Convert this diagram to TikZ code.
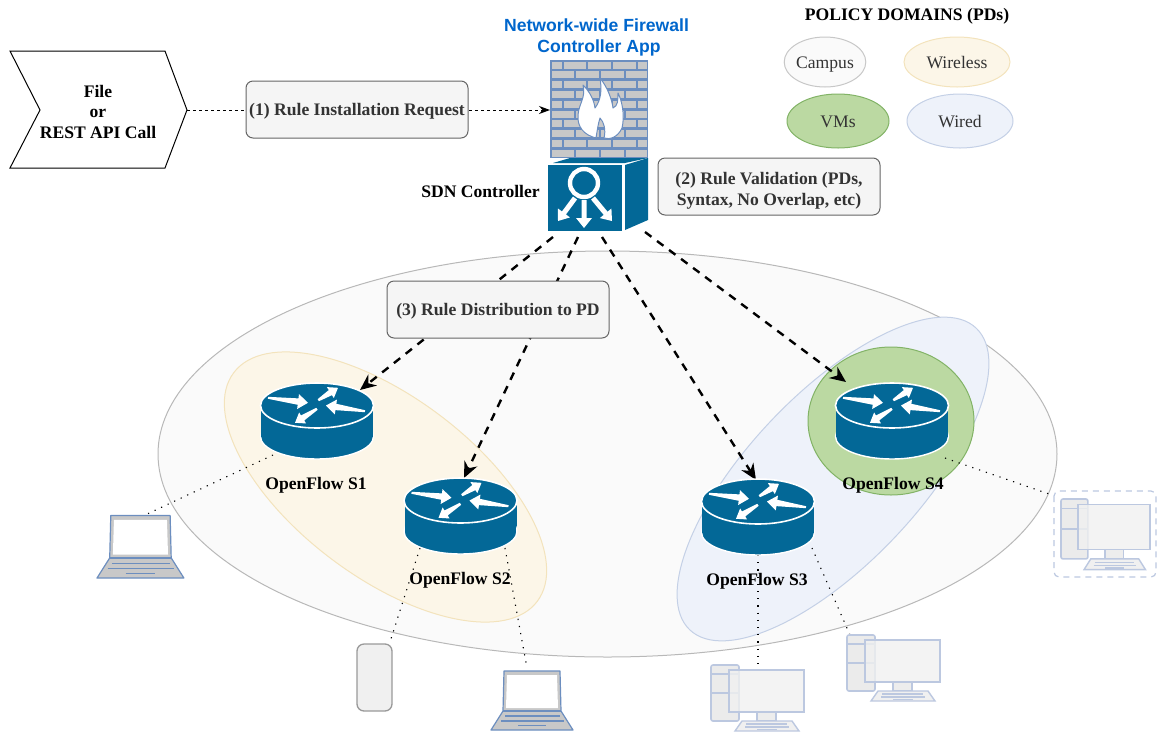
\documentclass[tikz,border=0pt]{standalone}
\usepackage{fontspec}
\setmainfont{Liberation Serif}
\newfontfamily\arialf{Liberation Sans}
\usetikzlibrary{arrows.meta,shapes.geometric}
\definecolor{teal1}{HTML}{036897}
\definecolor{brick}{HTML}{C8C8C8}
\definecolor{mortar}{HTML}{6C8EBF}
\definecolor{boxfill}{HTML}{F5F5F5}
\definecolor{boxline}{HTML}{666666}
\definecolor{txt}{HTML}{333333}
\definecolor{devline}{HTML}{BCC8E0}
\definecolor{tanfill}{HTML}{FCF6E8}
\definecolor{tanline}{HTML}{F3E3BC}
\definecolor{bluefill}{HTML}{EEF2FA}
\definecolor{blueline}{HTML}{C4D0E6}
\definecolor{greenfill}{HTML}{BBD9A2}
\definecolor{greenline}{HTML}{82B366}
\definecolor{appblue}{HTML}{0066CC}
% tapered white arrow: x1 y1 x2 y2 tail-half shaft-half head-half head-length
\newcommand{\taperarrow}[8]{%
 \pgfmathsetmacro\tdx{#3-#1}\pgfmathsetmacro\tdy{#4-#2}%
 \pgfmathsetmacro\tlen{veclen(\tdx,\tdy)}\pgfmathsetmacro\tang{atan2(-\tdy,\tdx)}%
 \pgfmathsetmacro\tneck{\tlen-#8}%
 \fill[white,shift={(#1,#2)},rotate=\tang] (0,-#5) -- (\tneck,-#6) -- (\tneck,-#7) -- (\tlen,0) -- (\tneck,#7) -- (\tneck,#6) -- (0,#5) -- cycle;%
}
\newcommand{\bodytext}{\fontsize{17.6}{21}\selectfont}
\newcommand{\lineprop}{\rule[-4pt]{0pt}{20pt}}
\tikzset{
 x=1pt,y=-1pt,
 stepbox/.style={draw=boxline,fill=boxfill,rounded corners=7pt,line width=1pt,font=\bfseries\bodytext,text=txt,align=center,inner sep=0pt,minimum width=222pt,minimum height=57pt},
 bigdash/.style={line width=2.4pt,dash pattern=on 8pt off 7pt,-{Stealth[length=16pt,width=14pt]}},
 thindash/.style={line width=1pt,dash pattern=on 3pt off 3pt,-{Stealth[length=11pt,width=8pt]}},
 dots/.style={line width=1.1pt,dash pattern=on 1.2pt off 6pt},
 oflabel/.style={font=\bfseries\bodytext,inner sep=0pt},
 legend/.style={ellipse,line width=1pt,font=\bodytext,text=txt,inner sep=0pt},
 router/.pic={
  \fill[teal1] (-56,0) rectangle (56,31);
  \draw[white,line width=1.4pt,fill=teal1] (0,31) ellipse[x radius=56.5,y radius=22.5];
  \fill[teal1] (-55.8,0) rectangle (55.8,31);
  \draw[white,line width=1.6pt,fill=teal1] (0,0) ellipse[x radius=56.5,y radius=22.5];
  \taperarrow{-49}{-7.7}{-9}{-2.7}{1}{3.2}{7.5}{10}
  \taperarrow{1.3}{-5.3}{21}{-17.7}{1.2}{3}{6.5}{9}
  \taperarrow{48}{5.7}{9}{0}{1}{3.2}{7.5}{10}
  \taperarrow{0}{3.3}{-22}{17.3}{1.2}{3}{6.5}{9}
 },
 laptop/.pic={
  \draw[mortar,line width=1.2pt,fill=brick,line join=round] (13,0) -- (69,0) -- (70,40) -- (82,59) -- (0,59) -- (12,40) -- cycle;
  \fill[white] (16,4) -- (66,4) -- (67,37) -- (15,37) -- cycle;
  \draw[mortar,line width=1.2pt] (12,40) -- (70,40);
  \draw[mortar,line width=1.4pt] (14,45) -- (69,45) (10,50) -- (73,50) (27,54.5) -- (55,54.5);
 },
 desktop/.pic={
  \draw[devline,line width=1.6pt,fill=black!8,rounded corners=2pt] (0,0) rectangle (28,56);
  \draw[devline,line width=1.4pt] (0,9) -- (28,9) (0,28) -- (28,28);
  \draw[devline,line width=1.6pt,fill=black!6,fill opacity=.8] (18,5) rectangle (93,47);
  \draw[devline,line width=1.6pt,fill=black!7] (46,47) rectangle (65,56);
  \draw[devline,line width=1.4pt,fill=black!6] (31,56) -- (81,56) -- (88,66) -- (24,66) -- cycle;
  \draw[devline,line width=1.2pt] (35,59) -- (76,59) (34,62) -- (78,62) (46,64.5) -- (66,64.5);
 }
}
\begin{document}
\begin{tikzpicture}
\useasboundingbox (0,0) rectangle (1157,732);
% domain ellipses
\draw[fill=black!2,draw=black!28,line width=1pt] (607.5,454) ellipse[x radius=449.5,y radius=203];
\draw[fill=tanfill,draw=tanline,line width=1pt,rotate around={-37:(385.5,487)}] (385.5,487) ellipse[x radius=190,y radius=90];
\draw[fill=bluefill,draw=blueline,line width=1pt,rotate around={46.5:(833,479)}] (833,479) ellipse[x radius=208,y radius=85];
\draw[fill=greenfill,draw=greenline,line width=1pt] (891,421) ellipse[x radius=83,y radius=74];

% named connector ends
\coordinate (cA) at (553,237); \coordinate (cB) at (578,237);
\coordinate (cC) at (602,237); \coordinate (cD) at (645,232);
\coordinate (s1in) at (360,390); \coordinate (s2in) at (464,478);
\coordinate (s3in) at (756,480); \coordinate (s4in) at (846,382);
\coordinate (s1out) at (273,455); \coordinate (lapA) at (145,515);
\coordinate (s2outa) at (420,548); \coordinate (phoneT) at (390,642);
\coordinate (s2outb) at (505,548); \coordinate (lapB) at (527,668);
\coordinate (s3outa) at (758,555); \coordinate (deskA) at (758,668);
\coordinate (s3outb) at (812,548); \coordinate (deskB) at (850,635);
\coordinate (s4out) at (945,458); \coordinate (deskC) at (1052,495);
\coordinate (fileR) at (187,110); \coordinate (fwL) at (550,110);

% connectors
\draw[bigdash] (cA) -- (s1in);
\draw[bigdash] (cB) -- (s2in);
\draw[bigdash] (cC) -- (s3in);
\draw[bigdash] (cD) -- (s4in);
\draw[dots] (s1out) -- (lapA);
\draw[dots] (s2outa) -- (phoneT);
\draw[dots] (s2outb) -- (lapB);
\draw[dots] (s3outa) -- (deskA);
\draw[dots] (s3outb) -- (deskB);
\draw[dots] (s4out) -- (deskC);
\draw[thindash] (fileR) -- (fwL);

% routers
\pic at (317,405.5) {router};
\pic at (460.5,500.5) {router};
\pic at (758,501.5) {router};
\pic at (892,405.5) {router};
\node[oflabel] (s1) at (316,485.5) {OpenFlow S1};
\node[oflabel] (s2) at (460,580) {OpenFlow S2};
\node[oflabel] (s3) at (757,581) {OpenFlow S3};
\node[oflabel] (s4) at (893,485.5) {OpenFlow S4};

% end devices
\pic[scale=1.06] at (97,515.5) {laptop};
\pic at (491,671) {laptop};
\draw[draw=black!40,fill=black!6,line width=1.3pt,rounded corners=7pt] (357,644) rectangle (392,711);
\pic at (711,665) {desktop};
\pic at (847,635) {desktop};
\pic[xscale=.96,yscale=1.07] at (1061,499) {desktop};
\draw[devline,line width=1.2pt,dash pattern=on 6pt off 5pt,rounded corners=5pt] (1054,491) rectangle (1156,577);

% file shape
\draw[black,line width=1pt] (10,51) -- (165,51) -- (187,110) -- (165,168) -- (10,168) -- (40,110) -- cycle;
\node[font=\bfseries\fontsize{17.6}{20.5}\selectfont,align=center,inner sep=0pt] (file) at (98,111.5) {File\\or\\REST API Call};

% step boxes
\node[stepbox] (r1) at (357,109.5) {\lineprop(1) Rule Installation Request};
\node[stepbox] (r2) at (769,186.5) {\rule{0pt}{20pt}(2) Rule Validation (PDs,\\Syntax, No Overlap, etc)};
\node[stepbox] (r3) at (498,309.5) {\lineprop(3) Rule Distribution to PD};

% firewall
\fill[mortar] (550,60) rectangle (648,158);
\foreach \r in {0,2,4,6,8}{
 \foreach \a/\b in {551.5/561.5,563.5/586,588/611,613/636,638/646.5}{
  \fill[brick] (\a,61.5+9.8*\r) rectangle (\b,68.5+9.8*\r);
 }
}
\foreach \r in {1,3,5,7,9}{
 \foreach \a/\b in {551.5/573.5,575.5/598.5,600.5/623.5,625.5/646.5}{
  \fill[brick] (\a,61.5+9.8*\r) rectangle (\b,68.5+9.8*\r);
 }
}
\draw[mortar,line width=1pt,fill=white,line join=round] (596,138)
 .. controls (584,135) and (577,127) .. (578,115)
 .. controls (579,103) and (586,98) .. (583,85)
 .. controls (590,92) and (594,100) .. (595,108)
 .. controls (601,100) and (602,90) .. (600,78)
 .. controls (608,88) and (612,100) .. (613,108)
 .. controls (618,106) and (618,100) .. (618,93)
 .. controls (624,105) and (624,120) .. (622,128)
 .. controls (618,137) and (610,140) .. (604,138)
 .. controls (606,130) and (604,122) .. (600,118)
 .. controls (598,124) and (597,132) .. (596,138) -- cycle;

% SDN controller
\fill[teal1] (553,163) -- (570,158) -- (648,158) -- (625,163) -- cycle;
\fill[teal1] (625,165) -- (648,158) -- (648,220) -- (625,230) -- cycle;
\fill[teal1] (548,165) rectangle (622,231);
\draw[white,line width=4.4pt] (584,183) circle[radius=14];
\taperarrow{575}{198}{558}{221}{2.5}{2.5}{7.5}{10}
\taperarrow{584}{200}{584}{228}{2.5}{2.5}{8}{10}
\taperarrow{593}{198}{612}{221}{2.5}{2.5}{7.5}{10}
\node[font=\bfseries\bodytext,inner sep=0pt] (sdn) at (480.5,191.5) {SDN Controller};

% app title
\node[font=\arialf\bfseries\bodytext,text=appblue,align=center,inner sep=0pt] (app) at (596.5,37) {Network-wide Firewall\\\ Controller App};

% legend
\node[font=\bfseries\bodytext,inner sep=0pt] (ltitle) at (907,16) {POLICY DOMAINS (PDs)};
\node[legend,draw=black!22,fill=black!2,minimum width=78pt,minimum height=50pt] (campus) at (825,62) {\lineprop Campus};
\node[legend,draw=tanline,fill=tanfill,minimum width=106pt,minimum height=50pt] (wireless) at (957,62) {\lineprop Wireless};
\node[legend,draw=greenline,fill=greenfill,minimum width=102pt,minimum height=54pt] (vms) at (838,121) {\lineprop VMs};
\node[legend,draw=blueline,fill=bluefill,minimum width=106pt,minimum height=54pt] (wired) at (960,121) {\lineprop Wired};
\end{tikzpicture}
\end{document}
